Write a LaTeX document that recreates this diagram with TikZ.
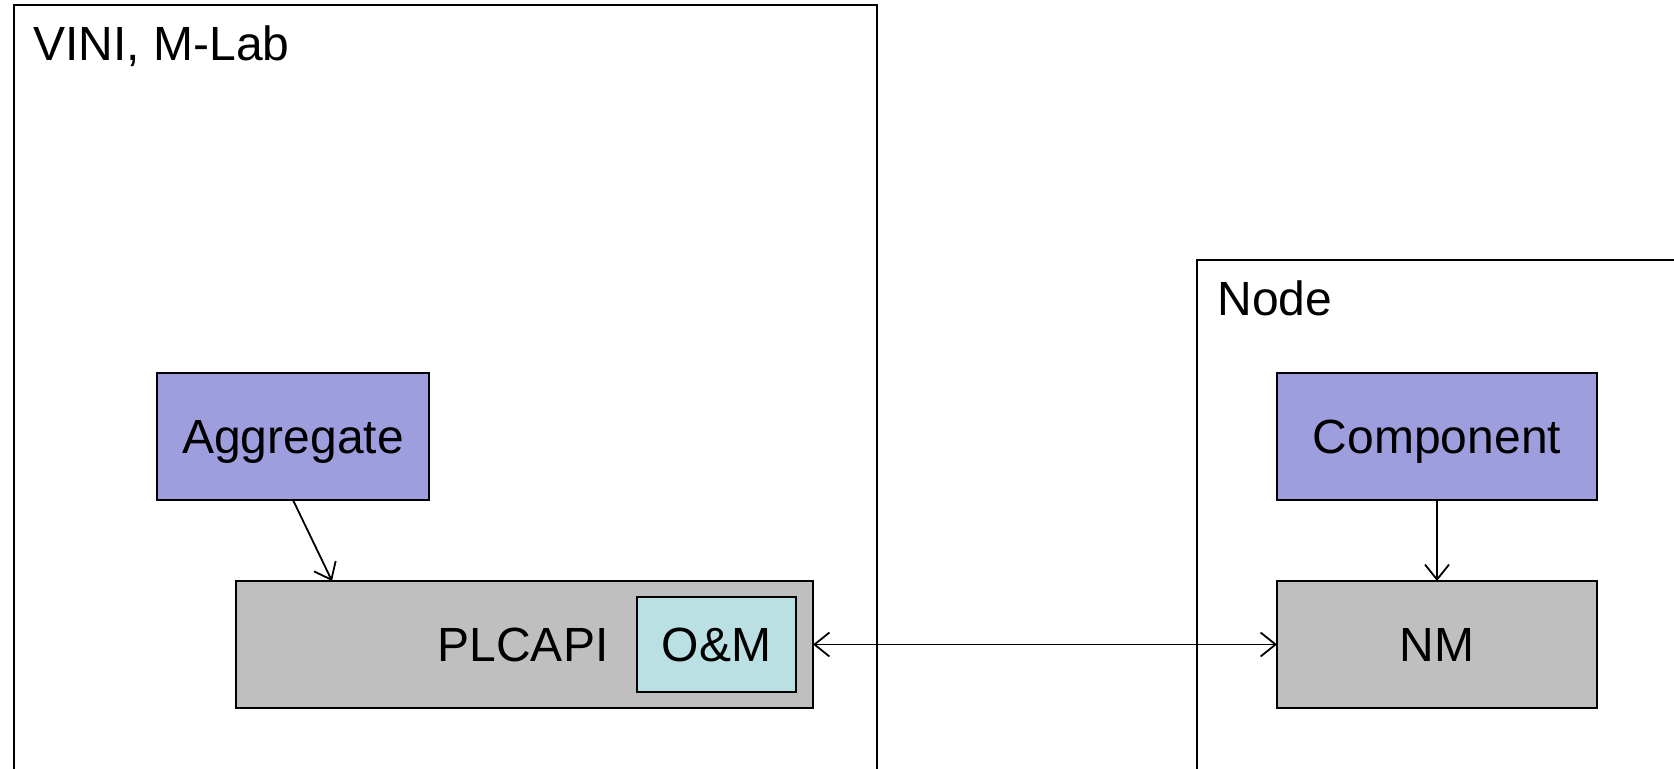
\documentclass[tikz,border=0pt]{standalone}
\usepackage{fontspec}
\setmainfont{Liberation Sans}
\usetikzlibrary{arrows.meta}
\definecolor{lav}{RGB}{158,158,222}
\definecolor{grayfill}{RGB}{191,191,191}
\definecolor{cyanfill}{RGB}{186,224,227}
\tikzset{
  txt/.style={font=\fontsize{24}{28}\selectfont, inner sep=0pt},
  boxbase/.style={draw=black, line width=1.3pt, font=\fontsize{24}{28}\selectfont, inner sep=0pt, outer sep=0pt, text height=21.7pt, text depth=5.1pt},
  bluebox/.style={boxbase, fill=lav, minimum width=160pt, minimum height=63.5pt},
  graybox/.style={boxbase, fill=grayfill, minimum height=63.5pt},
  cyanbox/.style={boxbase, fill=cyanfill, minimum width=79.5pt, minimum height=47.5pt},
  frame/.style={draw=black, line width=1.1pt},
  conn/.style={draw=black, line width=0.9pt, -{Straight Barb[length=7.5pt,width=12pt]}},
}
\begin{document}
\begin{tikzpicture}[x=0.5pt,y=0.5pt]
\useasboundingbox (0,0) rectangle (1674,769);
\clip (0,0) rectangle (1674,769);
% outer frames
\draw[frame] (14,-20) -- (14,764) -- (877,764) -- (877,-20);
\draw[frame] (1197,-20) -- (1197,509) -- (1700,509);
\node[txt, anchor=base west] (vini) at (33,708) {VINI, M-Lab};
\node[txt, anchor=base west] (nodelbl) at (1217,453) {Node};
% boxes
\node[bluebox, minimum width=136pt] (agg) at (293,332.5) {Aggregate};
\node[graybox, minimum width=288.5pt] (plc) at (524.5,124.5) {};
\node[txt, text height=21.7pt, text depth=5.1pt] (plctext) at (523,124.5) {PLCAPI};
\node[cyanbox] (om) at (716.5,124.5) {O\&M};
\node[bluebox] (comp) at (1437,332.5) {Component};
\node[graybox, minimum width=160pt] (nm) at (1437,124.5) {NM};
% connectors
\coordinate (plctop) at (332,188);
\draw[conn] (agg.south) -- (plctop);
\draw[conn] (comp.south) -- (nm.north);
\draw[conn, {Straight Barb[length=7.5pt,width=12pt]}-{Straight Barb[length=7.5pt,width=12pt]}] (plc.east) -- (nm.west);
\end{tikzpicture}
\end{document}
